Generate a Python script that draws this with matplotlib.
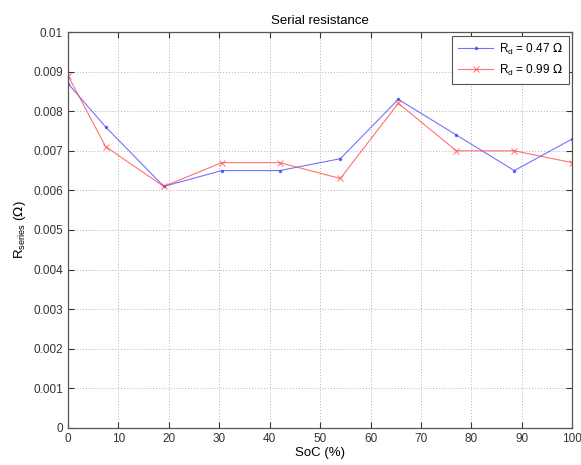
import numpy as np
import matplotlib
matplotlib.use("Agg")
import matplotlib.pyplot as plt

plt.rcParams['font.family'] = ['Liberation Sans', 'DejaVu Sans']

# state of charge (%) and series resistance (ohm)
soc = [0, 7.5, 19, 30.5, 42, 54, 65.5, 77, 88.5, 100]
r_047 = [0.0087, 0.0076, 0.0061, 0.0065, 0.0065, 0.0068, 0.0083, 0.0074, 0.0065, 0.0073]
r_099 = [0.0089, 0.0071, 0.0061, 0.0067, 0.0067, 0.0063, 0.0082, 0.0070, 0.0070, 0.0067]

xticks = np.arange(0, 101, 10)
yticks = np.arange(0, 0.0101, 0.001)
ytick_labels = ['0'] + ['%.3f' % v for v in yticks[1:-1]] + ['0.01']

fig = plt.figure(figsize=(5.81, 4.65), dpi=100)
ax = fig.add_axes([0.117, 0.080, 0.868, 0.851])

ax.plot(soc, r_047, color='#4444ff', lw=0.8, marker='.', ms=3, alpha=0.75,
        label=r'R$_\mathregular{d}$ = 0.47 $\Omega$')
ax.plot(soc, r_099, color='#ff4444', lw=0.8, marker='x', ms=4, mew=0.7, alpha=0.75,
        label=r'R$_\mathregular{d}$ = 0.99 $\Omega$')

ax.set_xlim(0, 100)
ax.set_ylim(0, 0.01)
ax.set_xticks(xticks)
ax.set_yticks(yticks)
ax.set_yticklabels(ytick_labels)
ax.tick_params(direction='in', top=True, right=True, labelsize=8.5, length=4,
               colors='#333333', width=0.8)
ax.grid(True, linestyle=(0, (1, 2)), color='#b0b0b0', linewidth=0.7)
for s in ax.spines.values():
    s.set_color('#555555')
    s.set_linewidth(0.9)

ax.set_title('Serial resistance', fontsize=9.5, pad=6)
ax.set_xlabel('SoC (%)', fontsize=9.5, labelpad=2)
ax.set_ylabel(r'R$_\mathregular{series}$ ($\Omega$)', fontsize=9.5)

leg = ax.legend(loc='upper right', fontsize=8.5, fancybox=False, framealpha=1,
                edgecolor='#555555', borderaxespad=0.3, handlelength=3.0,
                handletextpad=0.5, borderpad=0.5)
leg.get_frame().set_linewidth(0.8)

fig.savefig('out.png', dpi=100)
